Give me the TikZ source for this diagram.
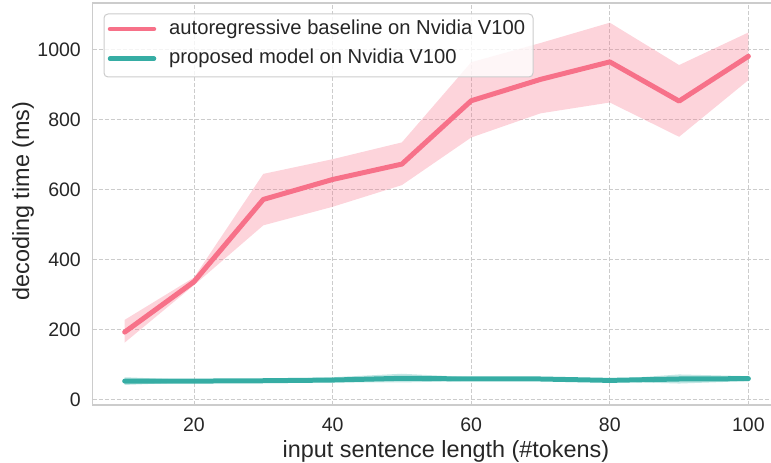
\documentclass[tikz,border=0pt]{standalone}
\usepackage{fontspec}
\setmainfont{Liberation Sans}
\definecolor{cred}{HTML}{F77189}
\definecolor{cgreen}{HTML}{36ADA4}
\definecolor{cgrid}{HTML}{CCCCCC}
\definecolor{ctext}{HTML}{262626}
\begin{document}
\begin{tikzpicture}[x=1pt,y=1pt,
  font=\fontsize{19.5}{23}\selectfont, text=ctext,
  gridline/.style={cgrid, line width=1pt, dash pattern=on 4pt off 2pt},
  spine/.style={cgrid, line width=1.3pt},
  dataline/.style={line width=5pt, line cap=round, line join=round},
  band/.style={fill opacity=0.3, draw=none},
  ticklbl/.style={inner sep=0pt},
  axlbl/.style={inner sep=0pt, font=\fontsize{23.4}{28}\selectfont},
  leglbl/.style={inner sep=0pt, font=\fontsize{20.2}{24}\selectfont}]
\useasboundingbox (0,0) rectangle (771,463);
\begin{scope}[xshift=55.4pt, yshift=63pt, x=6.93pt, y=0.35pt]
  % grid
  \foreach \gx in {20,40,...,100}
    \draw[gridline] (\gx,-14.3) -- (\gx,1134.3);
  \foreach \gy in {0,200,...,1000}
    \draw[gridline] (5.38,\gy) -- (103.3,\gy);
  % spines
  \draw[spine] (103.3,1134.3) -- (5.38,1134.3) -- (5.38,-14.3) -- (103.3,-14.3);
  % bands
  \fill[band, cred] (10,229) -- (20,350) -- (30,646) -- (40,688) -- (50,736) -- (60,965) -- (70,1020) -- (80,1078) -- (90,957) -- (100,1050)
    -- (100,914) -- (90,752) -- (80,850) -- (70,819) -- (60,750) -- (50,614) -- (40,552) -- (30,499) -- (20,328) -- (10,164) -- cycle;
  \fill[band, cgreen] (10,65) -- (20,57) -- (30,59) -- (40,65) -- (50,75) -- (60,65) -- (70,65) -- (80,59) -- (90,73) -- (100,68)
    -- (100,54) -- (90,47) -- (80,53) -- (70,55) -- (60,55) -- (50,50) -- (40,50) -- (30,51) -- (20,51) -- (10,43) -- cycle;
  % lines
  \draw[dataline, cred] (10,194) -- (20,338) -- (30,573) -- (40,630) -- (50,674) -- (60,855) -- (70,916) -- (80,966) -- (90,854) -- (100,982);
  \draw[dataline, cgreen] (10,54) -- (20,54) -- (30,55) -- (40,57) -- (50,62) -- (60,60) -- (70,60) -- (80,56) -- (90,60) -- (100,61);
  % x tick labels
  \foreach \gx in {20,40,...,100}
    \node[ticklbl, anchor=base] (xt\gx) at (\gx,-91.4) {\gx};
\end{scope}
% y tick labels
\foreach \gy/\py in {0/63,200/133,400/203,600/273,800/343,1000/413}
  \node[ticklbl, anchor=east] (yt\gy) at (81,\py) {\gy};
% axis labels
\node[axlbl, anchor=base] (xlabel) at (446,5) {input sentence length (\#tokens)};
\node[axlbl, anchor=base, rotate=90] (ylabel) at (29,262) {decoding time (ms)};
% legend
\draw[rounded corners=4pt, cgrid, line width=1pt, fill=white, fill opacity=0.8] (104,386) rectangle (533,449);
\draw[dataline, cred, line width=4.5pt] (110,434) -- (154,434);
\draw[dataline, cgreen, line width=4.5pt] (110,404.3) -- (154,404.3);
\node[leglbl, anchor=west] (leg1) at (169,434) {autoregressive baseline on Nvidia V100};
\node[leglbl, anchor=west] (leg2) at (169,404.3) {proposed model on Nvidia V100};
\end{tikzpicture}
\end{document}
